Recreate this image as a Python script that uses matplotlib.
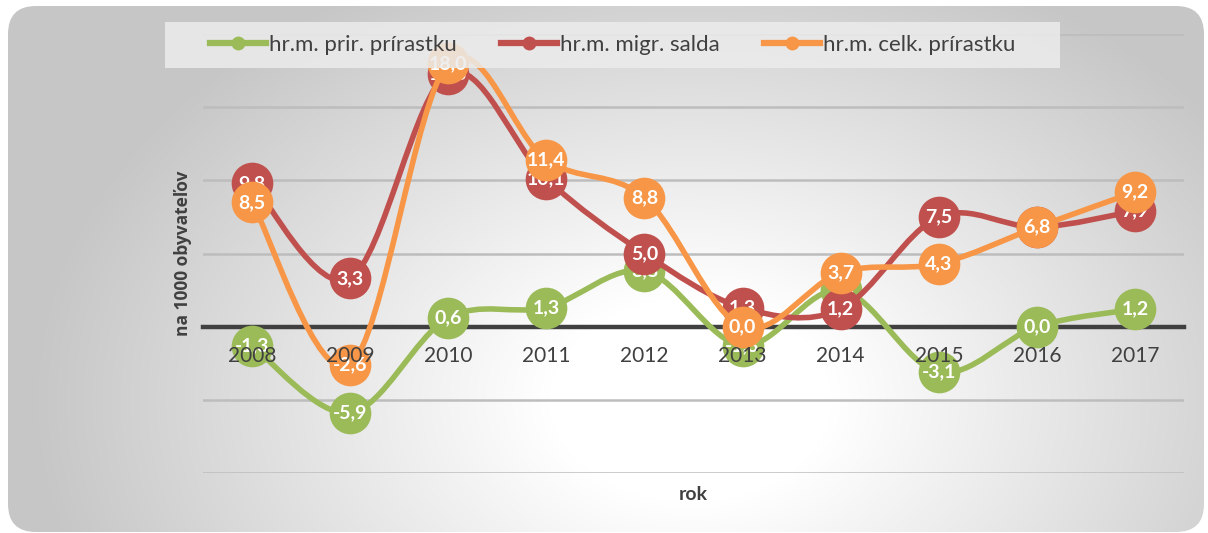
import numpy as np
import matplotlib
matplotlib.use("Agg")
import matplotlib.pyplot as plt
from matplotlib.path import Path
from matplotlib.patches import PathPatch, FancyBboxPatch, Rectangle
from matplotlib.lines import Line2D

years = ["2008", "2009", "2010", "2011", "2012", "2013", "2014", "2015", "2016", "2017"]
prir = [-1.3, -5.9, 0.6, 1.3, 3.8, -1.3, 2.5, -3.1, 0.0, 1.2]
migr = [9.8, 3.3, 17.3, 10.1, 5.0, 1.3, 1.2, 7.5, 6.8, 7.9]
celk = [8.5, -2.6, 18.0, 11.4, 8.8, 0.0, 3.7, 4.3, 6.8, 9.2]
series_names = ["hr.m. prir. prírastku", "hr.m. migr. salda", "hr.m. celk. prírastku"]
colors = ["#9BBB59", "#C0504D", "#F79646"]
ylabel = "na 1000 obyvateľov"
xlabel = "rok"

plt.rcParams['font.family'] = ['Lato', 'DejaVu Sans']

W, H = 1208, 533
fig = plt.figure(figsize=(W / 100, H / 100), dpi=100)
fig.patch.set_facecolor("white")

# background gradient in a rounded rectangle
bg = fig.add_axes([0, 0, 1, 1], zorder=-10)
bg.set_xlim(0, W)
bg.set_ylim(H, 0)
bg.axis("off")
yy, xx = np.mgrid[0:H, 0:W]
r = np.sqrt(((xx - 690) / 640.0) ** 2 + ((yy - 400) / 460.0) ** 2)
t = np.clip((r - 0.22) / 0.8, 0, 1)
val = 1.0 - t * (1.0 - 0.78)
img = np.dstack([val, val, val])
im = bg.imshow(img, extent=(0, W, H, 0), aspect="auto", interpolation="bilinear")
clip = FancyBboxPatch((8, 6), 1196, 526, boxstyle="round,pad=0,rounding_size=28",
                      transform=bg.transData, facecolor="none", edgecolor="none")
bg.add_patch(clip)
im.set_clip_path(clip)

ax = fig.add_axes([203 / W, (H - 473) / H, (1184 - 203) / W, (473 - 34) / H])
ax.patch.set_alpha(0)
ax.set_xlim(-0.5, len(years) - 0.5)
ax.set_ylim(-10, 20)
ax.set_yticks([-10, -5, 5, 10, 15, 20])
ax.yaxis.grid(True, color="#bdbdbd", lw=1.8)
ax.set_axisbelow(True)
ax.tick_params(axis="y", length=0, labelleft=False)
for s in ["left", "right", "top"]:
    ax.spines[s].set_visible(False)
ax.spines["bottom"].set_position(("data", 0))
ax.spines["bottom"].set_color("#404040")
ax.spines["bottom"].set_linewidth(3.2)
ax.spines["bottom"].set_zorder(2)
ax.set_xticks(range(len(years)))
ax.set_xticklabels(years, fontsize=15, color="#404040")
ax.tick_params(axis="x", length=0, pad=14)
ax.xaxis.set_zorder(30)


def smooth_path(xs, ys):
    pts = np.column_stack([xs, ys]).astype(float)
    n = len(pts)
    verts = [pts[0]]
    codes = [Path.MOVETO]
    for i in range(n - 1):
        p0 = pts[i - 1] if i > 0 else pts[i]
        p1 = pts[i]
        p2 = pts[i + 1]
        p3 = pts[i + 2] if i + 2 < n else pts[i + 1]
        c1 = p1 + (p2 - p0) / 6.0
        c2 = p2 - (p3 - p1) / 6.0
        verts += [c1, c2, p2]
        codes += [Path.CURVE4] * 3
    return Path(verts, codes)


x = np.arange(len(years))
for k, (vals, c) in enumerate(zip([prir, migr, celk], colors)):
    z = 4 + k * 2
    ax.add_patch(PathPatch(smooth_path(x, vals), facecolor="none", edgecolor=c,
                           lw=4, zorder=z, capstyle="round", joinstyle="round"))
    ax.plot(x, vals, ls="none", marker="o", ms=30, mfc=c, mec="none", zorder=z + 0.5)
    for xi, v in zip(x, vals):
        ax.text(xi, v, f"{v:.1f}".replace(".", ","), ha="center", va="center",
                color="white", fontsize=14, fontweight="bold", zorder=z + 1)

ax.set_ylabel(ylabel, fontsize=12.5, fontweight="bold", color="#404040", labelpad=8,
              family=["Open Sans", "DejaVu Sans"])
fig.text(693 / W, 1 - 495 / H, xlabel, ha="center", va="center", fontsize=14,
         fontweight="bold", color="#404040")

# legend box
fig.patches.append(Rectangle((165 / W, 1 - 68 / H), (1060 - 165) / W, 46 / H,
                             transform=fig.transFigure, facecolor="#ececec",
                             edgecolor="none", alpha=0.85, zorder=20))
handles = [Line2D([0], [0], color=c, lw=4.5, marker="o", ms=10, mec="none") for c in colors]
leg = fig.legend(handles, series_names, loc="center left",
                 bbox_to_anchor=(210 / W, 1 - 45 / H), ncol=3, frameon=False,
                 fontsize=16, handlelength=2.5, handletextpad=0.15, columnspacing=2.0,
                 borderaxespad=0, borderpad=0)
for txt in leg.get_texts():
    txt.set_color("#404040")
leg.set_zorder(21)

fig.savefig("out.png", dpi=100)
